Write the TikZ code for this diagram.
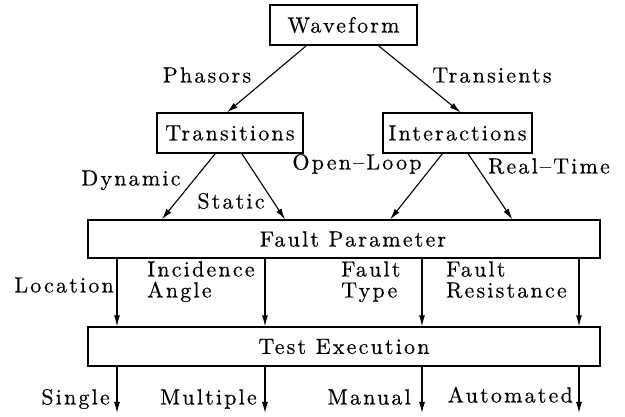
\documentclass[tikz,border=0pt]{standalone}
\usepackage{fontspec}
\newfontfamily\plotfont{lmroman10-regular.otf}[LetterSpace=10, FakeBold=0.4]
\usetikzlibrary{arrows.meta, calc}

\tikzset{
  block/.style={draw, line width=1.2pt, inner sep=0pt},
  lbl/.style={inner sep=0pt, align=left, text height=15pt, text depth=4pt},
  arr/.style={line width=1.1pt, -{Latex[length=11pt,width=6pt]}}
}

\begin{document}
\begin{tikzpicture}[x=1pt, y=-1pt, font=\plotfont\fontsize{22}{21}\selectfont]
\useasboundingbox (0,0) rectangle (625,417);
% boxes
\node[block, minimum width=147pt, minimum height=40pt] (wave) at (343.5,25) {Waveform};
\node[block, minimum width=146pt, minimum height=40pt] (trans) at (230,133) {Transitions};
\node[block, minimum width=149pt, minimum height=40pt] (inter) at (457.5,133) {Interactions};
\node[block, minimum width=512pt, minimum height=38pt] (fp) at (344,239) {\hspace*{18pt}Fault Parameter};
\node[block, minimum width=512pt, minimum height=39pt] (te) at (344,346.5) {Test Execution};

% upper tree
\draw[arr] ($(wave.south west)!0.25!(wave.south east)$) -- ($(trans.north west)!0.48!(trans.north east)$);
\draw[arr] ($(wave.south west)!0.735!(wave.south east)$) -- ($(inter.north west)!0.52!(inter.north east)$);
\draw[arr] ($(trans.south west)!0.4!(trans.south east)$) -- ($(fp.north west)!0.145!(fp.north east)$);
\draw[arr] ($(trans.south west)!0.58!(trans.south east)$) -- ($(fp.north west)!0.385!(fp.north east)$);
\draw[arr] ($(inter.south west)!0.4!(inter.south east)$) -- ($(fp.north west)!0.59!(fp.north east)$);
\draw[arr] ($(inter.south west)!0.57!(inter.south east)$) -- ($(fp.north west)!0.828!(fp.north east)$);

\node[lbl] (phasors) at (207,77) {Phasors};
\node[lbl] (transients) at (492,77) {Transients};
\node[lbl] (dynamic) at (131,180) {Dynamic};
\node[lbl] (static) at (231,203) {Static};
\node[lbl] (openloop) at (357,164) {Open–Loop};
\node[lbl] (realtime) at (549,168) {Real–Time};

% columns
\foreach \c/\x in {1/117, 2/265, 3/422, 4/579} {
  \coordinate (out\c) at (\x,413);
  \draw[arr] (fp.south -| out\c) -- (te.north -| out\c);
  \draw[arr] (te.south -| out\c) -- (out\c);
}

\node[lbl, anchor=east] (location) at (114,287) {Location};
\node[lbl, anchor=west] (incidence) at (147,292) {Incidence\\Angle};
\node[lbl, anchor=west] (ftype) at (341,292) {Fault\\Type};
\node[lbl, anchor=west] (fres) at (446,292) {Fault\\Resistance};

\node[lbl, anchor=east] (single) at (110,399) {Single};
\node[lbl, anchor=east] (multiple) at (257,399) {Multiple};
\node[lbl, anchor=east] (manual) at (411,399) {Manual};
\node[lbl, anchor=east] (automated) at (573,397) {Automated};
\end{tikzpicture}
\end{document}
